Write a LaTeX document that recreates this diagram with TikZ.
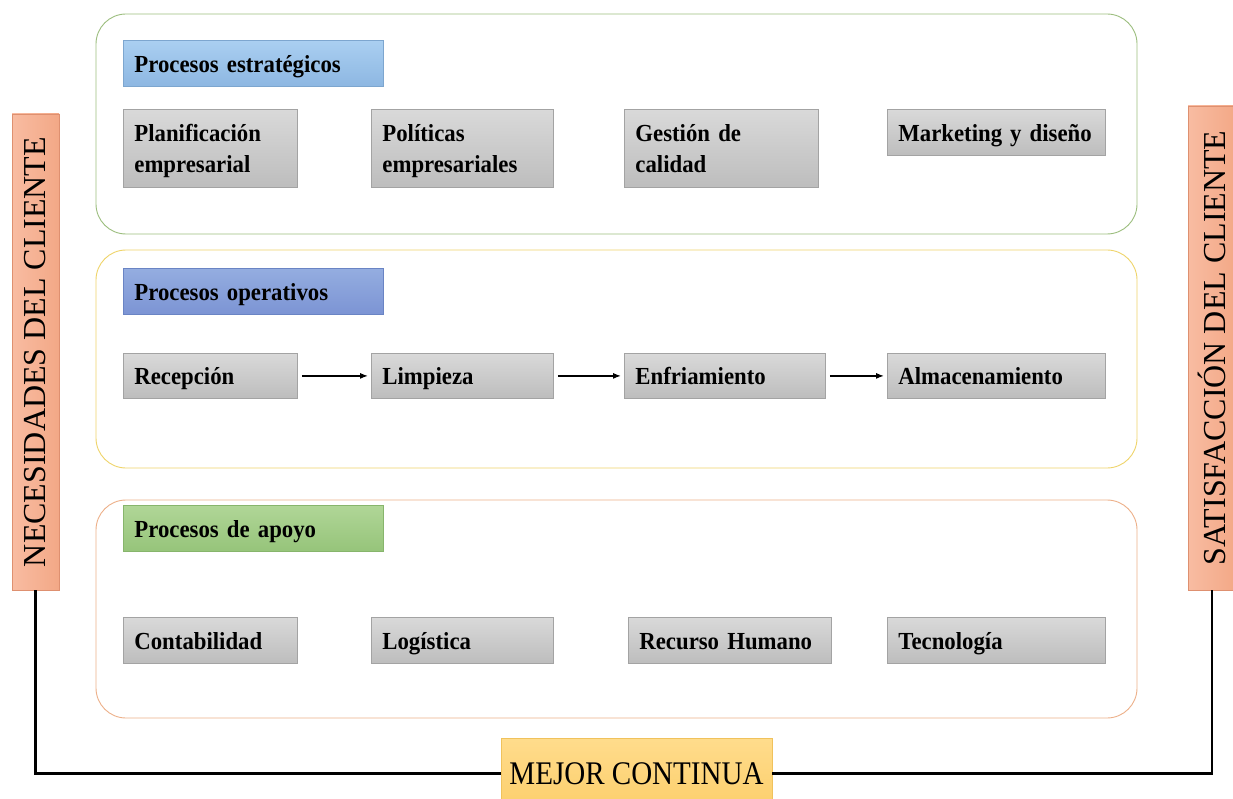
\documentclass[tikz,border=0pt]{standalone}
\usepackage{fontspec}
\setmainfont{Liberation Serif}
\newfontfamily\boxfont{Liberation Serif}[FakeStretch=0.93]
\newfontfamily\mejfont{Liberation Serif}[FakeStretch=0.88]
\usetikzlibrary{arrows.meta}
\newcommand{\tstr}{\rule{0pt}{24pt}}
\newcommand{\bstr}{\rule[-6pt]{0pt}{6pt}}
\definecolor{grayT}{HTML}{D9D9D9}
\definecolor{grayB}{HTML}{BDBDBD}
\definecolor{grayD}{HTML}{A3A3A3}
\definecolor{blueT}{HTML}{AACFF1}
\definecolor{blueB}{HTML}{8DB7E2}
\definecolor{blueD}{HTML}{7DA6CF}
\definecolor{purT}{HTML}{94ADE0}
\definecolor{purB}{HTML}{7C94D4}
\definecolor{purD}{HTML}{6A84C4}
\definecolor{grnT}{HTML}{B0D697}
\definecolor{grnB}{HTML}{96C47A}
\definecolor{grnD}{HTML}{87B56C}
\definecolor{salT}{HTML}{F8BCA2}
\definecolor{salB}{HTML}{F3A886}
\definecolor{salD}{HTML}{DE9070}
\definecolor{yelT}{HTML}{FFDC8C}
\definecolor{yelB}{HTML}{FCCF6C}
\definecolor{yelD}{HTML}{F0C25C}
\definecolor{frameG}{HTML}{9CBE7E}
\definecolor{frameY}{HTML}{EFD46A}
\definecolor{frameO}{HTML}{EDB089}
\tikzset{
  frame/.style={line width=0.9pt, rounded corners=30pt},
  graybox/.style={draw=grayD, line width=0.8pt, top color=grayT, bottom color=grayB,
    anchor=north west, inner xsep=11pt, inner ysep=0pt, align=left,
    font=\boxfont\fontsize{24.5}{31}\selectfont\bfseries},
  oneline/.style={text height=21pt, text depth=3pt},
  headbox/.style={draw=#1D, line width=0.8pt, top color=#1T, bottom color=#1B,
    anchor=north west, inner xsep=11pt, inner ysep=0pt, align=left,
    minimum height=46pt, text width=238pt, text height=21pt, text depth=3pt,
    font=\boxfont\fontsize{24.5}{31}\selectfont\bfseries},
  sidebox/.style={draw=salD, line width=0.8pt, left color=salT, right color=salB,
    rotate=90, inner sep=0pt, font=\fontsize{32}{32}\selectfont},
  flow/.style={line width=1.2pt, -{Latex[length=8pt,width=6pt]}, shorten <=4pt, shorten >=3pt},
  conn/.style={line width=2.8pt},
}
\begin{document}
\begin{tikzpicture}[x=1pt,y=-1pt]
\useasboundingbox (0,0) rectangle (1233,799);
\fill[white] (0,0) rectangle (1233,799);
% frames
\draw[frame, draw=frameG] (96,14) rectangle (1137,234);
\draw[frame, draw=frameY] (96,250) rectangle (1137,468);
\draw[frame, draw=frameO] (96,500) rectangle (1137,718);
% headers
\node[headbox=blue] (hest) at (123,40) {Procesos estratégicos};
\node[headbox=pur] (hope) at (123,268) {Procesos operativos};
\node[headbox=grn] (hapo) at (123,505) {Procesos de apoyo};
% row 1
\node[graybox, text width=152pt, minimum height=78pt] (pla) at (123,109) {\tstr Planificación\\empresarial\bstr};
\node[graybox, text width=160pt, minimum height=78pt] (pol) at (371,109) {\tstr Políticas\\empresariales\bstr};
\node[graybox, text width=172pt, minimum height=78pt] (ges) at (624,109) {\tstr Gestión de\\calidad\bstr};
\node[graybox, oneline, text width=196pt, minimum height=46pt] (mar) at (887,109) {\mbox{Marketing\hspace{8pt}y diseño}};
% row 2
\node[graybox, oneline, text width=152pt, minimum height=45pt] (rec) at (123,353) {Recepción};
\node[graybox, oneline, text width=160pt, minimum height=45pt] (lim) at (371,353) {Limpieza};
\node[graybox, oneline, text width=179pt, minimum height=45pt] (enf) at (624,353) {Enfriamiento};
\node[graybox, oneline, text width=196pt, minimum height=45pt] (alm) at (887,353) {Almacenamiento};
% row 3
\node[graybox, oneline, text width=152pt, minimum height=46pt] (con) at (123,617) {Contabilidad};
\node[graybox, oneline, text width=160pt, minimum height=46pt] (log) at (371,617) {Logística};
\node[graybox, oneline, text width=181pt, minimum height=46pt] (rh) at (628,617) {Recurso Humano};
\node[graybox, oneline, text width=196pt, minimum height=46pt] (tec) at (887,617) {Tecnología};
% flow arrows
\draw[flow] (rec.east) -- (lim.west);
\draw[flow] (lim.east) -- (enf.west);
\draw[flow] (enf.east) -- (alm.west);
% side boxes
\node[sidebox, minimum width=476pt, minimum height=47pt] (nec) at (35.5,352) {NECESIDADES DEL CLIENTE};
\node[sidebox, minimum width=484pt, minimum height=48pt] (sat) at (1212,348) {SATISFACCIÓN DEL CLIENTE};
% bottom box
\node[draw=yelD, line width=0.8pt, top color=yelT, bottom color=yelB,
  minimum width=271pt, minimum height=70pt, inner sep=0pt, anchor=north,
  text height=23pt, text depth=1pt,
  font=\mejfont\fontsize{33}{33}\selectfont] (mej) at (636.5,738) {MEJOR CONTINUA};
% connectors
\draw[conn] (nec.west) |- (mej.west);
\draw[conn] (mej.east) -| (sat.west);
\end{tikzpicture}
\end{document}
